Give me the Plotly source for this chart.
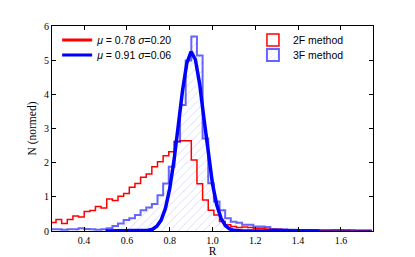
import numpy as np
import plotly.graph_objects as go

# ---- data ----
bin_start = 0.2423
bin_width = 0.02635
red_2f = [0.25, 0.34, 0.22, 0.34, 0.44, 0.41, 0.57, 0.60, 0.72, 0.67,
          0.94, 0.89, 1.02, 1.10, 1.28, 1.39, 1.57, 1.67, 1.88, 2.03,
          2.20, 2.32, 2.62, 2.64, 2.64, 2.08, 1.38, 0.91, 0.61, 0.47,
          0.28, 0.18, 0.13, 0.10, 0.12, 0.10, 0.08, 0.08, 0.06, 0.05,
          0.05, 0.04, 0.04, 0.03, 0.03, 0.03, 0.02, 0.02, 0.02, 0.02,
          0.03, 0.03, 0.02, 0.03, 0.02, 0.02, 0.02]
blue_3f = [0.05, 0.05, 0.04, 0.05, 0.05, 0.08, 0.06, 0.05, 0.04, 0.05,
           0.08, 0.15, 0.22, 0.32, 0.37, 0.47, 0.61, 0.69, 0.79, 1.05,
           1.39, 1.88, 2.61, 3.69, 4.99, 5.69, 5.14, 2.71, 1.40, 0.86,
           0.61, 0.37, 0.27, 0.24, 0.18, 0.18, 0.13, 0.13, 0.12, 0.06,
           0.05, 0.05, 0.04, 0.04, 0.03, 0.03, 0.03, 0.02, 0.02, 0.02,
           0.02, 0.02, 0.02, 0.01, 0.01, 0.01, 0.01]
fit_R = [0.50, 0.60, 0.66, 0.70, 0.72, 0.74, 0.76, 0.78, 0.80, 0.82, 0.84,
         0.86, 0.88, 0.90, 0.92, 0.94, 0.96, 0.98, 1.00, 1.02, 1.04,
         1.06, 1.08, 1.10, 1.14, 1.50]
fit_N = [0.00, 0.00, 0.00, 0.02, 0.05, 0.14, 0.32, 0.66, 1.24, 2.06, 3.08,
         4.11, 4.91, 5.25, 5.02, 4.30, 3.29, 2.26, 1.38, 0.76, 0.37,
         0.16, 0.06, 0.02, 0.00, 0.00]
label_red_fit = "<i>μ</i> = 0.78 <i>σ</i>=0.20"
label_blue_fit = "<i>μ</i> = 0.91 <i>σ</i>=0.06"
label_2f = "2F method"
label_3f = "3F method"
x_ticks = [0.4, 0.6, 0.8, 1.0, 1.2, 1.4, 1.6]
y_ticks = [0, 1, 2, 3, 4, 5, 6]

n = len(red_2f)
edges = bin_start + bin_width * np.arange(n + 1)
centers = edges[:-1] + bin_width / 2


def step(vals):
    xs = list(edges)
    ys = list(vals) + [vals[-1]]
    return xs, ys


BLUE_H = "rgba(0,0,255,0.6)"
HATCH = "rgba(110,110,255,0.55)"
fig = go.Figure()

# hatched fill for 3F
fig.add_trace(go.Bar(
    x=centers, y=blue_3f, width=bin_width, showlegend=False,
    marker=dict(color="rgba(0,0,0,0)", line=dict(width=0),
                pattern=dict(shape="/", fgcolor=HATCH,
                             bgcolor="rgba(0,0,0,0)", size=6, solidity=0.15)),
    hoverinfo="skip"))

rx, ry = step(red_2f)
fig.add_trace(go.Scatter(x=rx, y=ry, mode="lines", line=dict(color="red", width=1.5, shape="hv"),
                         showlegend=False))
bx, by = step(blue_3f)
fig.add_trace(go.Scatter(x=bx, y=by, mode="lines", line=dict(color=BLUE_H, width=2, shape="hv"),
                         showlegend=False))
fig.add_trace(go.Scatter(x=fit_R, y=fit_N, mode="lines", line=dict(color="#0000ff", width=3.5),
                         showlegend=False))

# legend entries (one legend per row to control spacing)
fig.add_trace(go.Scatter(x=[None], y=[None], mode="lines", name=label_red_fit,
                         line=dict(color="red", width=3), legend="legend"))
fig.add_trace(go.Scatter(x=[None], y=[None], mode="lines", name=label_blue_fit,
                         line=dict(color="#0000ff", width=3), legend="legend2"))
fig.add_trace(go.Bar(x=[None], y=[None], name=label_2f, legend="legend3",
                     marker=dict(color="white", line=dict(color="red", width=1.5))))
fig.add_trace(go.Bar(x=[None], y=[None], name=label_3f, legend="legend4",
                     marker=dict(color="rgba(0,0,0,0)", line=dict(color=BLUE_H, width=2),
                                 pattern=dict(shape="/", fgcolor=HATCH,
                                              bgcolor="white", size=5, solidity=0.15))))

axis_font = dict(family="Liberation Serif, DejaVu Serif, serif", size=10, color="black")
title_font = dict(family="Liberation Serif, DejaVu Serif, serif", size=11.5, color="black")
leg_font = dict(family="Liberation Sans, Arial, sans-serif", size=10.5, color="black")


def leg(x, y):
    return dict(x=x, y=y, xanchor="left", yanchor="middle", bgcolor="rgba(0,0,0,0)",
                font=leg_font, itemwidth=30)


# the page body adds an 8px offset; figure is sized so the plot area lands
# where the reference has it within the 415x257 window
fig.update_layout(
    width=407, height=249,
    margin=dict(l=44, r=42, t=18, b=26),
    paper_bgcolor="white", plot_bgcolor="white",
    bargap=0, barmode="overlay",
    xaxis=dict(range=[0.25, 1.75], tickvals=x_ticks, ticktext=[f"{v:.1f}" for v in x_ticks],
               ticks="inside", ticklen=4, tickcolor="black", showline=True, linecolor="black",
               linewidth=1, mirror="ticks", showgrid=False, zeroline=False, tickfont=axis_font,
               automargin=False,
               title=dict(text="R", font=title_font, standoff=4)),
    yaxis=dict(range=[0, 6], tickvals=y_ticks, ticks="inside", ticklen=4, tickcolor="black",
               showline=True, linecolor="black", linewidth=1, mirror="ticks", showgrid=False,
               zeroline=False, tickfont=axis_font, automargin=False,
               title=dict(text="N (normed)", font=title_font, standoff=4)),
    legend=leg(0.016, 0.932),
    legend2=leg(0.016, 0.859),
    legend3=leg(0.626, 0.932),
    legend4=leg(0.626, 0.859),
)
fig.write_html("out.html")
